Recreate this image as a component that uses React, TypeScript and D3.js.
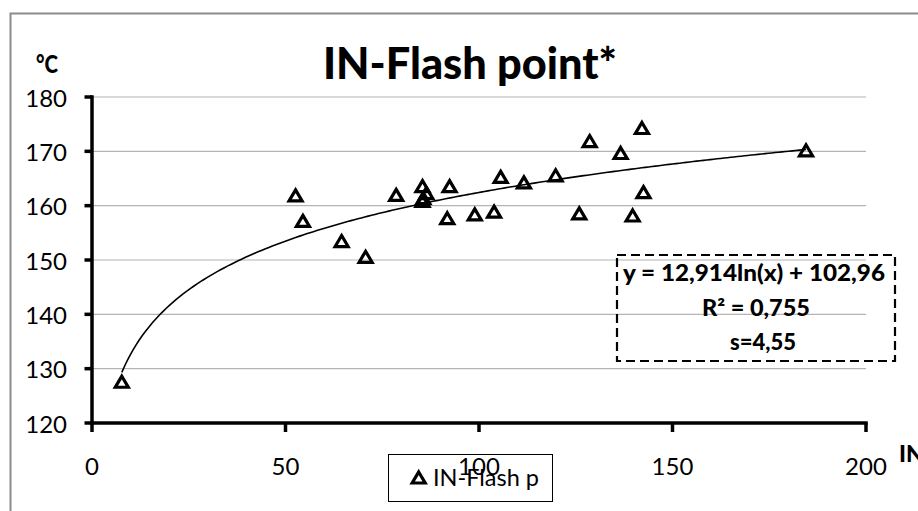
import React from "react";
import * as d3 from "d3";

// ---- data ----
const xValues = [7.7, 52.6, 54.5, 64.5, 70.7, 78.6, 85.4, 86.4, 85.4, 85.6, 92.4, 91.8, 98.9, 103.9, 105.6, 111.6, 119.8, 125.9, 128.6, 136.6, 139.7, 142.1, 142.5, 184.5];
const yValues = [127.5, 161.8, 157.1, 153.4, 150.5, 161.9, 163.5, 162.2, 160.8, 161.3, 163.5, 157.6, 158.3, 158.8, 165.2, 164.2, 165.5, 158.5, 171.8, 169.6, 158.1, 174.2, 162.4, 170.1];
const xTicks = [0, 50, 100, 150, 200];
const yTicks = [120, 130, 140, 150, 160, 170, 180];
const trendCoef = [12.914, 102.96]; // y = a ln(x) + b
const title = "IN-Flash point*";
const yUnit = "°C";
const xTitle = "IN";
const seriesName = "IN-Flash p";
const equationLines = ["y = 12,914ln(x) + 102,96", "R² = 0,755", "s=4,55"];

const FONT = "Lato, 'Open Sans', sans-serif";

function tri(cx: number, cy: number) {
  return `M${cx},${cy - 6}L${cx + 6.5},${cy + 5}L${cx - 6.5},${cy + 5}Z`;
}

export default function App() {
  const W = 918, H = 511;
  const x = d3.scaleLinear().domain([0, 200]).range([92, 866]);
  const y = d3.scaleLinear().domain([120, 180]).range([423, 97]);
  const xMin = d3.min(xValues)!, xMax = d3.max(xValues)!;
  const trendPts = d3.range(0, 201).map(i => {
    const xv = xMin + (xMax - xMin) * i / 200;
    return [xv, trendCoef[0] * Math.log(xv) + trendCoef[1]] as [number, number];
  });
  const line = d3.line<[number, number]>().x(d => x(d[0])).y(d => y(d[1]));
  const points = xValues.map((xv, i) => ({ x: xv, y: yValues[i] }));

  return (
    <svg width={W} height={H} style={{ position: "absolute", left: 0, top: 0, background: "#fff" }} fontFamily={FONT}>
      <rect x={0} y={0} width={W} height={H} fill="#fff" />
      <rect x={10.5} y={13.5} width={930} height={520} fill="none" stroke="#8c8c8c" strokeWidth={2} />
      {/* gridlines */}
      {yTicks.filter(t => t > 120).map(t => (
        <line key={t} x1={x(0)} x2={x(200)} y1={y(t)} y2={y(t)} stroke="#b4b4b4" strokeWidth={1.2} />
      ))}
      {/* title */}
      <text x={470} y={79} textAnchor="middle" fontWeight="900" fontSize={43} textLength={294} lengthAdjust="spacingAndGlyphs">{title}</text>
      <text x={36} y={73} fontWeight="900" fontSize={25} textLength={22} lengthAdjust="spacingAndGlyphs">{yUnit}</text>
      {/* legend */}
      <rect x={388.5} y={454.5} width={164} height={47} fill="#fff" stroke="#000" strokeWidth={1} />
      <path d={tri(418.7, 478)} fill="none" stroke="#000" strokeWidth={3.2} />
      <text x={433} y={486} fontSize={23.5} textLength={106} lengthAdjust="spacingAndGlyphs">{seriesName}</text>
      {/* axes */}
      <line x1={x(0)} x2={x(0)} y1={y(180) - 1.75} y2={y(120) + 1.75} stroke="#000" strokeWidth={3.5} />
      <line x1={x(0) - 1.75} x2={x(200) + 1.75} y1={y(120)} y2={y(120)} stroke="#000" strokeWidth={3.5} />
      {yTicks.map(t => (
        <g key={t}>
          <line x1={x(0) - 7.5} x2={x(0)} y1={y(t)} y2={y(t)} stroke="#000" strokeWidth={3.5} />
          <text x={67} y={y(t) + 9.5} textAnchor="end" fontSize={24}>{t}</text>
        </g>
      ))}
      {xTicks.map(t => (
        <g key={t}>
          <line x1={x(t)} x2={x(t)} y1={y(120)} y2={y(120) + 9} stroke="#000" strokeWidth={3.5} />
          <text x={x(t)} y={474.5} textAnchor="middle" fontSize={24}>{t}</text>
        </g>
      ))}
      <text x={899} y={462} fontWeight="900" fontSize={23}>{xTitle}</text>
      {/* trendline */}
      <path d={line(trendPts)!} fill="none" stroke="#000" strokeWidth={1.6} />
      {/* points */}
      {points.map((p, i) => (
        <path key={i} d={tri(x(p.x), y(p.y))} fill="none" stroke="#000" strokeWidth={3.2} />
      ))}
      {/* equation box */}
      <rect x={617} y={255} width={278} height={106} fill="none" stroke="#000" strokeWidth={2.2} strokeDasharray="9,5" />
      <text x={754} y={281} textAnchor="middle" fontWeight="900" fontSize={22} textLength={262} lengthAdjust="spacingAndGlyphs">{equationLines[0]}</text>
      <text x={756} y={316} textAnchor="middle" fontWeight="900" fontSize={22} textLength={108} lengthAdjust="spacingAndGlyphs">{equationLines[1]}</text>
      <text x={763} y={350} textAnchor="middle" fontWeight="900" fontSize={22}>{equationLines[2]}</text>
    </svg>
  );
}
